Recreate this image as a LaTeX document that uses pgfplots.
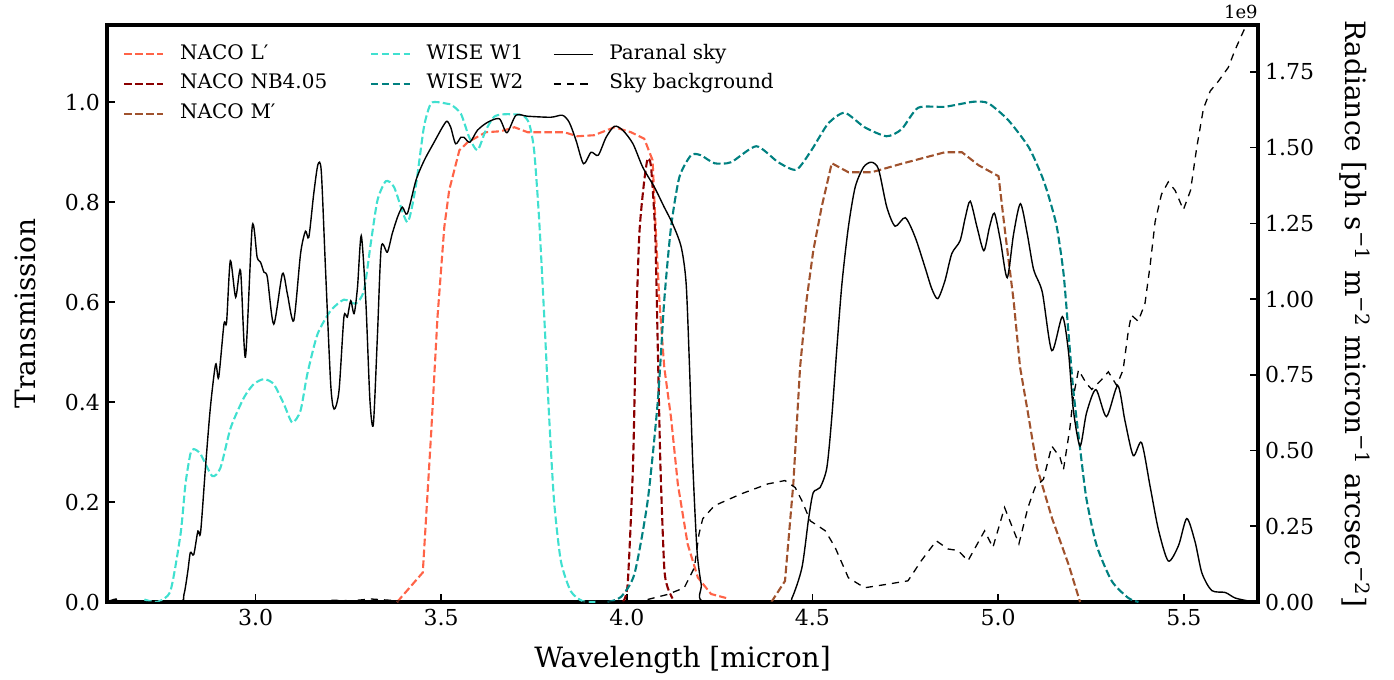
\documentclass[border=0pt]{standalone}
\usepackage{fontspec}
\setmainfont{DejaVu Serif}
\usepackage{pgfplots}
\pgfplotsset{compat=1.18}

\definecolor{ctomato}{RGB}{255,99,71}
\definecolor{cdarkred}{RGB}{139,0,0}
\definecolor{csienna}{RGB}{160,82,45}
\definecolor{cturq}{RGB}{64,224,208}
\definecolor{cteal}{RGB}{0,128,128}

\pgfplotsset{
  common/.style={
    scale only axis, width=575.5pt, height=288.5pt,
    xmin=2.6, xmax=5.7,
    tick align=inside,
    major tick length=4pt,
    every tick/.style={black, line width=0.8pt},
    tick label style={font=\fontsize{11}{13}\selectfont},
    /pgf/number format/assume math mode=true,
    label style={font=\fontsize{14}{16}\selectfont},
    axis line style={line width=2pt},
  },
  filt/.style={line width=1.05pt, dash pattern=on 3.8pt off 1.65pt},
  paranal/.style={black, line width=0.7pt},
  skybg/.style={black, line width=0.65pt, dash pattern=on 3.6pt off 3pt},
}

\begin{document}
\begin{tikzpicture}
\begin{axis}[common, name=ax1,
  xtick={3,3.5,4,4.5,5,5.5}, xtick pos=left,
  ymin=0, ymax=1.1546, ytick={0,0.2,0.4,0.6,0.8,1.0}, ytick pos=left,
  xticklabel style={/pgf/number format/.cd, fixed, fixed zerofill, precision=1},
  yticklabel style={/pgf/number format/.cd, fixed, fixed zerofill, precision=1},
  xlabel={Wavelength [micron]}, ylabel={Transmission},
  xlabel style={at={(axis description cs:0.5,-0.1005)}, anchor=center},
  ylabel style={at={(axis description cs:-0.0712,0.5)}, anchor=center},
]
% NACO L'
\addplot[filt, ctomato] table {
3.3814 0.000
3.4505 0.059
3.4729 0.336
3.4901 0.570
3.5084 0.750
3.5216 0.824
3.5491 0.904
3.5714 0.920
3.6202 0.940
3.6608 0.942
3.6974 0.950
3.7330 0.940
3.8316 0.940
3.8671 0.932
3.9118 0.934
3.9667 0.950
4.0114 0.940
4.0470 0.927
4.0694 0.884
4.0785 0.737
4.0877 0.603
4.1008 0.470
4.1191 0.369
4.1374 0.236
4.1638 0.116
4.1913 0.049
4.2269 0.016
4.2675 0.008
};
% WISE W1
\addplot[filt, cturq, smooth, tension=0.4] table {
2.7006 0.005
2.7351 0.000
2.7707 0.022
2.7981 0.136
2.8113 0.236
2.8245 0.296
2.8337 0.306
2.8520 0.296
2.8835 0.252
2.9058 0.269
2.9333 0.349
2.9688 0.409
2.9952 0.436
3.0227 0.446
3.0491 0.436
3.0765 0.396
3.0989 0.359
3.1213 0.383
3.1395 0.456
3.1670 0.536
3.2025 0.583
3.2381 0.605
3.2696 0.597
3.2920 0.623
3.3103 0.717
3.3285 0.804
3.3509 0.842
3.3733 0.830
3.4088 0.760
3.4312 0.830
3.4535 0.950
3.4718 0.997
3.4932 1.000
3.5165 0.997
3.5257 0.996
3.5531 0.977
3.5755 0.930
3.5978 0.904
3.6202 0.944
3.6426 0.971
3.6700 0.976
3.7188 0.974
3.7371 0.957
3.7503 0.904
3.7635 0.770
3.7777 0.570
3.7909 0.369
3.8041 0.202
3.8224 0.082
3.8488 0.022
3.8803 0.002
3.9210 0.000
};
% NACO NB4.05
\addplot[filt, cdarkred, smooth, tension=0.4] table {
3.9891 0.000
4.0023 0.036
4.0165 0.269
4.0246 0.537
4.0338 0.737
4.0460 0.837
4.0561 0.887
4.0653 0.870
4.0765 0.737
4.0836 0.503
4.0907 0.269
4.1008 0.069
4.1100 0.029
4.1232 0.007
};
% WISE W2
\addplot[filt, cteal, smooth, tension=0.4] table {
3.9484 0.000
3.9840 0.010
4.0205 0.056
4.0561 0.202
4.0836 0.403
4.1008 0.603
4.1191 0.750
4.1415 0.850
4.1730 0.894
4.1994 0.894
4.2360 0.878
4.2807 0.880
4.3488 0.912
4.4077 0.880
4.4565 0.865
4.4972 0.904
4.5419 0.957
4.5866 0.979
4.6405 0.950
4.6994 0.932
4.7400 0.946
4.7847 0.989
4.8569 0.991
4.9331 1.001
4.9738 0.998
5.0276 0.964
5.0825 0.910
5.1170 0.854
5.1353 0.814
5.1577 0.752
5.1760 0.659
5.1892 0.542
5.2024 0.425
5.2207 0.308
5.2380 0.206
5.2654 0.113
5.3060 0.042
5.3507 0.008
5.3781 0.000
};
% NACO M'
\addplot[filt, csienna] table {
4.3894 0.000
4.4260 0.042
4.4484 0.236
4.4667 0.470
4.4839 0.603
4.5022 0.703
4.5246 0.790
4.5520 0.878
4.5967 0.860
4.6597 0.860
4.7400 0.877
4.8569 0.900
4.9026 0.900
4.9473 0.874
5.0012 0.852
5.0194 0.737
5.0418 0.603
5.0591 0.470
5.0825 0.369
5.1048 0.269
5.1455 0.167
5.1902 0.074
5.2207 0.000
};
% Paranal sky
\addplot[paranal, smooth, tension=0.45] table {
2.6000 0.000
2.6243 0.006
2.6396 0.000
2.7920 0.000
2.8072 0.015
2.8174 0.060
2.8245 0.099
2.8337 0.095
2.8448 0.142
2.8520 0.139
2.8652 0.269
2.8784 0.389
2.8926 0.476
2.9007 0.449
2.9150 0.556
2.9221 0.560
2.9322 0.683
2.9465 0.610
2.9597 0.663
2.9729 0.490
2.9912 0.752
3.0044 0.690
3.0135 0.680
3.0227 0.660
3.0318 0.650
3.0491 0.556
3.0725 0.657
3.0857 0.617
3.1030 0.563
3.1213 0.697
3.1345 0.742
3.1436 0.730
3.1568 0.817
3.1680 0.875
3.1771 0.862
3.1883 0.670
3.2025 0.436
3.2117 0.386
3.2249 0.423
3.2381 0.570
3.2473 0.570
3.2564 0.603
3.2655 0.577
3.2747 0.630
3.2848 0.733
3.2970 0.603
3.3082 0.403
3.3174 0.356
3.3285 0.536
3.3387 0.710
3.3550 0.700
3.3682 0.737
3.3824 0.770
3.3956 0.790
3.4088 0.777
3.4322 0.844
3.4546 0.884
3.4810 0.920
3.5033 0.950
3.5155 0.962
3.5257 0.950
3.5389 0.917
3.5531 0.930
3.5613 0.930
3.5775 0.920
3.5978 0.944
3.6253 0.960
3.6568 0.967
3.6771 0.939
3.7015 0.974
3.7330 0.972
3.7950 0.970
3.8265 0.974
3.8448 0.960
3.8631 0.924
3.8834 0.877
3.9037 0.900
3.9230 0.894
3.9443 0.930
3.9667 0.952
3.9891 0.944
4.0165 0.917
4.0429 0.870
4.0744 0.830
4.1008 0.790
4.1232 0.757
4.1466 0.710
4.1598 0.637
4.1689 0.470
4.1781 0.269
4.1892 0.102
4.2004 0.035
4.2106 0.000
4.4260 0.000
4.4443 0.007
4.4717 0.069
4.4900 0.169
4.5022 0.219
4.5205 0.229
4.5388 0.269
4.5520 0.369
4.5652 0.503
4.5794 0.637
4.5967 0.750
4.6150 0.830
4.6374 0.870
4.6587 0.880
4.6780 0.866
4.7003 0.790
4.7227 0.752
4.7501 0.769
4.7766 0.730
4.8030 0.670
4.8213 0.627
4.8376 0.607
4.8569 0.643
4.8752 0.697
4.8976 0.723
4.9118 0.770
4.9250 0.802
4.9433 0.750
4.9616 0.703
4.9768 0.750
4.9900 0.778
5.0063 0.723
5.0245 0.649
5.0418 0.737
5.0601 0.797
5.0784 0.737
5.0957 0.665
5.1190 0.620
5.1445 0.503
5.1729 0.571
5.1892 0.503
5.2024 0.386
5.2207 0.312
5.2380 0.378
5.2634 0.425
5.2918 0.371
5.3223 0.433
5.3416 0.363
5.3640 0.293
5.3863 0.319
5.4097 0.230
5.4320 0.144
5.4584 0.082
5.4859 0.113
5.5082 0.167
5.5306 0.120
5.5489 0.058
5.5753 0.023
5.6119 0.019
5.6383 0.008
5.6749 0.002
5.7000 0.000
};
\end{axis}

\begin{axis}[common, name=ax2,
  axis y line*=right, axis x line=none,
  ymin=0, ymax=1.905, ytick={0,0.25,0.5,0.75,1.0,1.25,1.5,1.75},
  yticklabel style={/pgf/number format/.cd, fixed, fixed zerofill, precision=2},
  ylabel={Radiance [ph s\textsuperscript{−1} m\textsuperscript{−2} micron\textsuperscript{−1} arcsec\textsuperscript{−2}]},
  ylabel style={rotate=180, at={(axis description cs:1.0843,0.5)}, anchor=center},
  legend columns=3,
  legend cell align=left,
  legend image code/.code={\draw[#1] (0pt,0pt) -- (19.5pt,0pt);},
  legend style={at={(axis description cs:0,1)}, anchor=north west,
    xshift=8pt, yshift=-8pt, draw=none, fill=none,
    font=\fontsize{10}{12}\selectfont,
    row sep=1.8pt, inner sep=0pt,
    nodes={inner sep=1pt, text height=8pt, text depth=3pt},
    /tikz/every odd column/.append style={column sep=6.85pt},
    /tikz/column 2/.append style={column sep=0pt, nodes={text width=93.8pt, align=left}},
    /tikz/column 4/.append style={column sep=0pt, nodes={text width=62.3pt, align=left}}},
]
\addlegendimage{filt, ctomato}\addlegendentry{NACO L′}
\addlegendimage{filt, cturq}\addlegendentry{WISE W1}
\addlegendimage{paranal}\addlegendentry{Paranal sky}
\addlegendimage{filt, cdarkred}\addlegendentry{NACO NB4.05}
\addlegendimage{filt, cteal}\addlegendentry{WISE W2}
% Sky background (units of 1e9)
\addplot[skybg] table {
2.6000 0.000
3.1578 0.000
3.1985 0.006
3.2594 0.004
3.3103 0.010
3.3712 0.005
3.4119 0.000
4.0297 0.000
4.1100 0.025
4.1547 0.047
4.1821 0.114
4.1943 0.224
4.2045 0.275
4.2360 0.318
4.3081 0.357
4.3803 0.390
4.4260 0.401
4.4534 0.378
4.4717 0.334
4.4941 0.268
4.5347 0.235
4.5611 0.180
4.5967 0.080
4.6405 0.047
4.7034 0.059
4.7573 0.070
4.7929 0.136
4.8335 0.202
4.8650 0.175
4.8924 0.170
4.9188 0.136
4.9636 0.235
4.9859 0.180
5.0174 0.312
5.0560 0.192
5.0804 0.312
5.0997 0.379
5.1221 0.405
5.1445 0.515
5.1668 0.477
5.1760 0.437
5.1932 0.573
5.2024 0.676
5.2165 0.766
5.2380 0.721
5.2522 0.702
5.2786 0.734
5.2969 0.760
5.3193 0.715
5.3366 0.766
5.3507 0.895
5.3589 0.947
5.3772 0.927
5.3955 0.985
5.4097 1.114
5.4229 1.256
5.4400 1.346
5.4584 1.387
5.4767 1.359
5.4990 1.295
5.5183 1.359
5.5349 1.500
5.5530 1.629
5.5713 1.687
5.5937 1.720
5.6200 1.765
5.6383 1.823
5.6617 1.887
5.6800 1.930
};
\addlegendentry{Sky background}
\addlegendimage{filt, csienna}\addlegendentry{NACO M′}
\end{axis}
\node[anchor=base east, inner sep=0pt, font=\fontsize{9}{10}\selectfont] at ([yshift=3pt]ax1.north east) {1e9};
\pgfresetboundingbox
\path ([xshift=-53.5pt,yshift=-38.5pt]ax1.south west) rectangle ([xshift=68pt,yshift=12.5pt]ax1.north east);
\end{tikzpicture}
\end{document}
